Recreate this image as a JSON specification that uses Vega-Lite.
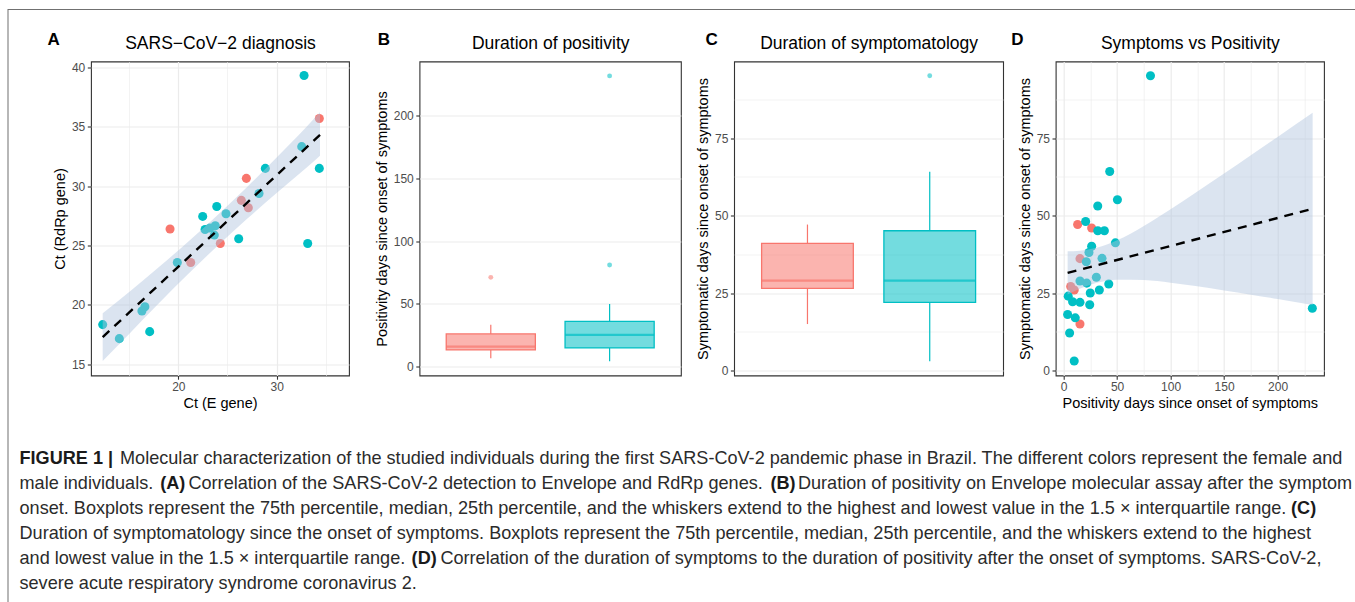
{
  "$schema": "https://vega.github.io/schema/vega-lite/v6.json",
  "padding": {"left": 7.5, "top": 9, "right": 0, "bottom": 0},
  "background": "white",
  "config": {
    "font": "Liberation Sans",
    "view": {"stroke": "#333333", "strokeWidth": 1.1},
    "axis": {
      "domain": false, "tickColor": "#333333", "tickSize": 3.7, "tickWidth": 1.1,
      "labelColor": "#4D4D4D", "labelFontSize": 12, "labelFont": "Liberation Sans",
      "titleFont": "Liberation Sans", "titleFontSize": 14.5, "titleFontWeight": "normal", "titleColor": "#000000",
      "gridColor": "#EBEBEB", "labelPadding": 2.5, "titlePadding": 4, "labelFlush": false, "labelOverlap": false
    },
    "title": {"font": "Liberation Sans", "fontSize": 17, "fontWeight": "bold", "anchor": "start", "frame": "bounds", "baseline": "alphabetic", "color": "#000000"}
  },
  "spacing": 0,
  "vconcat": [
    {"width": 1360, "height": 1, "view": {"stroke": null, "fill": "#707070"}, "data": {"values": []}, "mark": "point", "encoding": {}},
    {
      "spacing": 11,
      "hconcat": [
        {"width": 1, "height": 600, "view": {"stroke": null, "fill": "#707070"}, "data": {"values": []}, "mark": "point", "encoding": {}},
        {
          "spacing": 18.5,
          "vconcat": [
            {"width": 1, "height": 1, "view": {"stroke": null}, "data": {"values": []}, "mark": "point", "encoding": {}},
            {
              "spacing": 70.5,
              "bounds": "flush",
              "hconcat": [
                {"width": 1, "height": 1, "view": {"stroke": null}, "data": {"values": []}, "mark": "point", "encoding": {}},
                {
                  "width": 258, "height": 314,
                  "title": {"text": "A", "offset": -15, "dx": -5},
                  "resolve": {"axis": {"x": "independent"}},
                  "layer": [
                    {
                      "data": {"values": [
                        {"x": 19.16, "y": 26.39, "sex": "F"}, {"x": 21.26, "y": 23.57, "sex": "F"}, {"x": 24.27, "y": 25.17, "sex": "F"},
                        {"x": 26.41, "y": 28.80, "sex": "F"}, {"x": 27.12, "y": 28.18, "sex": "F"}, {"x": 26.92, "y": 30.65, "sex": "F"},
                        {"x": 34.34, "y": 35.68, "sex": "F"},
                        {"x": 22.48, "y": 27.45, "sex": "M"}, {"x": 23.91, "y": 28.29, "sex": "M"}, {"x": 24.85, "y": 27.67, "sex": "M"},
                        {"x": 22.72, "y": 26.35, "sex": "M"}, {"x": 23.22, "y": 26.47, "sex": "M"}, {"x": 23.76, "y": 26.66, "sex": "M"},
                        {"x": 23.66, "y": 25.88, "sex": "M"}, {"x": 26.14, "y": 25.57, "sex": "M"}, {"x": 19.90, "y": 23.57, "sex": "M"},
                        {"x": 16.30, "y": 19.50, "sex": "M"}, {"x": 16.60, "y": 19.85, "sex": "M"}, {"x": 12.31, "y": 18.35, "sex": "M"},
                        {"x": 14.00, "y": 17.17, "sex": "M"}, {"x": 17.09, "y": 17.76, "sex": "M"}, {"x": 28.21, "y": 29.38, "sex": "M"},
                        {"x": 28.85, "y": 31.49, "sex": "M"}, {"x": 32.55, "y": 33.32, "sex": "M"}, {"x": 34.34, "y": 31.49, "sex": "M"},
                        {"x": 32.79, "y": 39.30, "sex": "M"}, {"x": 33.16, "y": 25.17, "sex": "M"}
                      ]},
                      "mark": {"type": "circle", "size": 82, "opacity": 1},
                      "encoding": {
                        "x": {"field": "x", "type": "quantitative", "scale": {"domain": [11.12, 37.36], "nice": false, "zero": false},
                          "axis": {"orient": "bottom", "title": "Ct (E gene)", "values": [15, 20, 25, 30, 35],
                            "labelExpr": "datum.value % 10 === 0 ? datum.label : ''",
                            "gridWidth": {"condition": {"test": "datum.value % 10 === 0", "value": 1.2}, "value": 0.6},
                            "tickOpacity": {"condition": {"test": "datum.value % 10 === 0", "value": 1}, "value": 0}}},
                        "y": {"field": "y", "type": "quantitative", "scale": {"domain": [14.07, 40.48], "nice": false, "zero": false},
                          "axis": {"title": "Ct (RdRp gene)", "values": [15, 17.5, 20, 22.5, 25, 27.5, 30, 32.5, 35, 37.5, 40],
                            "labelExpr": "datum.value % 5 === 0 ? datum.label : ''",
                            "gridWidth": {"condition": {"test": "datum.value % 5 === 0", "value": 1.2}, "value": 0.6},
                            "tickOpacity": {"condition": {"test": "datum.value % 5 === 0", "value": 1}, "value": 0}}},
                        "color": {"field": "sex", "type": "nominal", "scale": {"domain": ["F", "M"], "range": ["#F8766D", "#00BFC4"]}, "legend": null}
                      }
                    },
                    {
                      "data": {"values": [
                        {"x": 12.31, "lo": 15.29, "hi": 19.31}, {"x": 15, "lo": 17.57, "hi": 21.09},
                        {"x": 18, "lo": 20.12, "hi": 23.17}, {"x": 21, "lo": 22.60, "hi": 25.32},
                        {"x": 24.3, "lo": 25.22, "hi": 27.80}, {"x": 27, "lo": 27.25, "hi": 29.93},
                        {"x": 30, "lo": 29.42, "hi": 32.40}, {"x": 33, "lo": 31.52, "hi": 34.94},
                        {"x": 34.41, "lo": 32.56, "hi": 36.21}
                      ]},
                      "mark": {"type": "area", "color": "#B0C4DE", "opacity": 0.45, "interpolate": "monotone"},
                      "encoding": {
                        "x": {"field": "x", "type": "quantitative", "scale": {"domain": [11.12, 37.36], "nice": false, "zero": false},
                          "axis": {"orient": "top", "title": "SARS−CoV−2 diagnosis", "labels": false, "ticks": false, "grid": false, "titleFontSize": 17.5, "titlePadding": 9.5}},
                        "y": {"field": "lo", "type": "quantitative", "title": "Ct (RdRp gene)", "scale": {"domain": [14.07, 40.48], "nice": false, "zero": false}},
                        "y2": {"field": "hi"}
                      }
                    },
                    {
                      "data": {"values": [
                        {"x": 12.31, "fit": 17.30}, {"x": 34.41, "fit": 34.31}
                      ]},
                      "mark": {"type": "line", "color": "#000000", "strokeWidth": 2.4, "strokeDash": [9, 7]},
                      "encoding": {
                        "x": {"field": "x", "type": "quantitative", "scale": {"domain": [11.12, 37.36], "nice": false, "zero": false}, "axis": null},
                        "y": {"field": "fit", "type": "quantitative", "title": "Ct (RdRp gene)", "scale": {"domain": [14.07, 40.48], "nice": false, "zero": false}}
                      }
                    }
                  ]
                },
                {
                  "spacing": 52.6,
                  "bounds": "flush",
                  "hconcat": [
                    {
                      "width": 261.4, "height": 314,
                      "title": {"text": "B", "offset": -15, "dx": 3.5},
                      "resolve": {"axis": {"x": "independent"}},
                      "layer": [
                        {
                          "data": {"values": [
                            {"sex": "F", "lower": 6.4, "q1": 13.0, "median": 15.7, "q3": 25.8, "upper": 33.2},
                            {"sex": "M", "lower": 4.0, "q1": 14.6, "median": 25.0, "q3": 35.9, "upper": 49.7}
                          ]},
                          "layer": [
                            {
                              "mark": {"type": "rule", "strokeWidth": 1.2},
                              "encoding": {
                                "x": {"field": "sex", "type": "nominal", "scale": {"type": "band", "domain": ["F", "M"], "paddingInner": 0.25, "paddingOuter": 0.225}, "axis": null},
                                "y": {"field": "lower", "type": "quantitative", "title": "Positivity days since onset of symptoms", "scale": {"domain": [-7.4, 243.4], "nice": false, "zero": false},
                                  "axis": {"values": [0, 25, 50, 75, 100, 125, 150, 175, 200, 225],
                                    "labelExpr": "datum.value % 50 === 0 ? datum.label : ''",
                                    "gridWidth": {"condition": {"test": "datum.value % 50 === 0", "value": 1.2}, "value": 0.6},
                                    "tickOpacity": {"condition": {"test": "datum.value % 50 === 0", "value": 1}, "value": 0}}},
                                "y2": {"field": "q1"},
                                "color": {"field": "sex", "type": "nominal", "scale": {"domain": ["F", "M"], "range": ["#F8766D", "#00BFC4"]}, "legend": null}
                              }
                            },
                            {
                              "mark": {"type": "rule", "strokeWidth": 1.2},
                              "encoding": {
                                "x": {"field": "sex", "type": "nominal", "scale": {"type": "band", "domain": ["F", "M"], "paddingInner": 0.25, "paddingOuter": 0.225}, "axis": null},
                                "y": {"field": "q3", "type": "quantitative", "title": "Positivity days since onset of symptoms", "scale": {"domain": [-7.4, 243.4], "nice": false, "zero": false}},
                                "y2": {"field": "upper"},
                                "color": {"field": "sex", "type": "nominal", "scale": {"domain": ["F", "M"], "range": ["#F8766D", "#00BFC4"]}, "legend": null}
                              }
                            },
                            {
                              "mark": {"type": "bar", "fillOpacity": 0.55, "strokeWidth": 1.3},
                              "encoding": {
                                "x": {"field": "sex", "type": "nominal", "scale": {"type": "band", "domain": ["F", "M"], "paddingInner": 0.25, "paddingOuter": 0.225},
                                  "axis": {"orient": "bottom", "title": "Sex", "labelAngle": 0, "grid": true, "gridWidth": 1.2, "bandPosition": 0.5}},
                                "y": {"field": "q1", "type": "quantitative", "title": "Positivity days since onset of symptoms", "scale": {"domain": [-7.4, 243.4], "nice": false, "zero": false}},
                                "y2": {"field": "q3"},
                                "fill": {"field": "sex", "type": "nominal", "scale": {"domain": ["F", "M"], "range": ["#F8766D", "#00BFC4"]}, "legend": null},
                                "stroke": {"field": "sex", "type": "nominal", "scale": {"domain": ["F", "M"], "range": ["#F8766D", "#00BFC4"]}, "legend": null}
                              }
                            },
                            {
                              "mark": {"type": "tick", "thickness": 2.2},
                              "encoding": {
                                "x": {"field": "sex", "type": "nominal", "scale": {"type": "band", "domain": ["F", "M"], "paddingInner": 0.25, "paddingOuter": 0.225}, "axis": null},
                                "y": {"field": "median", "type": "quantitative", "title": "Positivity days since onset of symptoms", "scale": {"domain": [-7.4, 243.4], "nice": false, "zero": false}},
                                "color": {"field": "sex", "type": "nominal", "scale": {"domain": ["F", "M"], "range": ["#F8766D", "#00BFC4"]}, "legend": null}
                              }
                            }
                          ]
                        },
                        {
                          "data": {"values": [
                            {"sex": "F", "value": 71.0}, {"sex": "M", "value": 80.9}, {"sex": "M", "value": 231.9}
                          ]},
                          "mark": {"type": "circle", "size": 24, "opacity": 0.55},
                          "encoding": {
                            "x": {"field": "sex", "type": "nominal", "scale": {"type": "band", "domain": ["F", "M"], "paddingInner": 0.25, "paddingOuter": 0.225},
                              "axis": {"orient": "top", "title": "Duration of positivity", "labels": false, "ticks": false, "grid": false, "titleFontSize": 17.5, "titlePadding": 9.5}},
                            "y": {"field": "value", "type": "quantitative", "title": "Positivity days since onset of symptoms", "scale": {"domain": [-7.4, 243.4], "nice": false, "zero": false}},
                            "color": {"field": "sex", "type": "nominal", "scale": {"domain": ["F", "M"], "range": ["#F8766D", "#00BFC4"]}, "legend": null}
                          }
                        }
                      ]
                    },
                    {
                      "width": 269, "height": 314,
                      "title": {"text": "C", "offset": -15, "dx": 10},
                      "resolve": {"axis": {"x": "independent"}},
                      "layer": [
                        {
                          "data": {"values": [
                            {"sex": "F", "lower": 15.0, "q1": 26.5, "median": 29.0, "q3": 41.0, "upper": 47.1},
                            {"sex": "M", "lower": 3.0, "q1": 22.0, "median": 29.0, "q3": 45.1, "upper": 64.1}
                          ]},
                          "layer": [
                            {
                              "mark": {"type": "rule", "strokeWidth": 1.2},
                              "encoding": {
                                "x": {"field": "sex", "type": "nominal", "scale": {"type": "band", "domain": ["F", "M"], "paddingInner": 0.25, "paddingOuter": 0.225}, "axis": null},
                                "y": {"field": "lower", "type": "quantitative", "title": "Symptomatic days since onset of symptoms", "scale": {"domain": [-1.6, 99.7], "nice": false, "zero": false},
                                  "axis": {"values": [0, 12.5, 25, 37.5, 50, 62.5, 75, 87.5],
                                    "labelExpr": "datum.value % 25 === 0 ? datum.label : ''",
                                    "gridWidth": {"condition": {"test": "datum.value % 25 === 0", "value": 1.2}, "value": 0.6},
                                    "tickOpacity": {"condition": {"test": "datum.value % 25 === 0", "value": 1}, "value": 0}}},
                                "y2": {"field": "q1"},
                                "color": {"field": "sex", "type": "nominal", "scale": {"domain": ["F", "M"], "range": ["#F8766D", "#00BFC4"]}, "legend": null}
                              }
                            },
                            {
                              "mark": {"type": "rule", "strokeWidth": 1.2},
                              "encoding": {
                                "x": {"field": "sex", "type": "nominal", "scale": {"type": "band", "domain": ["F", "M"], "paddingInner": 0.25, "paddingOuter": 0.225}, "axis": null},
                                "y": {"field": "q3", "type": "quantitative", "title": "Symptomatic days since onset of symptoms", "scale": {"domain": [-1.6, 99.7], "nice": false, "zero": false}},
                                "y2": {"field": "upper"},
                                "color": {"field": "sex", "type": "nominal", "scale": {"domain": ["F", "M"], "range": ["#F8766D", "#00BFC4"]}, "legend": null}
                              }
                            },
                            {
                              "mark": {"type": "bar", "fillOpacity": 0.55, "strokeWidth": 1.3},
                              "encoding": {
                                "x": {"field": "sex", "type": "nominal", "scale": {"type": "band", "domain": ["F", "M"], "paddingInner": 0.25, "paddingOuter": 0.225},
                                  "axis": {"orient": "bottom", "title": "Sex", "labelAngle": 0, "grid": true, "gridWidth": 1.2, "bandPosition": 0.5}},
                                "y": {"field": "q1", "type": "quantitative", "title": "Symptomatic days since onset of symptoms", "scale": {"domain": [-1.6, 99.7], "nice": false, "zero": false}},
                                "y2": {"field": "q3"},
                                "fill": {"field": "sex", "type": "nominal", "scale": {"domain": ["F", "M"], "range": ["#F8766D", "#00BFC4"]}, "legend": null},
                                "stroke": {"field": "sex", "type": "nominal", "scale": {"domain": ["F", "M"], "range": ["#F8766D", "#00BFC4"]}, "legend": null}
                              }
                            },
                            {
                              "mark": {"type": "tick", "thickness": 2.2},
                              "encoding": {
                                "x": {"field": "sex", "type": "nominal", "scale": {"type": "band", "domain": ["F", "M"], "paddingInner": 0.25, "paddingOuter": 0.225}, "axis": null},
                                "y": {"field": "median", "type": "quantitative", "title": "Symptomatic days since onset of symptoms", "scale": {"domain": [-1.6, 99.7], "nice": false, "zero": false}},
                                "color": {"field": "sex", "type": "nominal", "scale": {"domain": ["F", "M"], "range": ["#F8766D", "#00BFC4"]}, "legend": null}
                              }
                            }
                          ]
                        },
                        {
                          "data": {"values": [{"sex": "M", "value": 95.1}]},
                          "mark": {"type": "circle", "size": 24, "opacity": 0.55},
                          "encoding": {
                            "x": {"field": "sex", "type": "nominal", "scale": {"type": "band", "domain": ["F", "M"], "paddingInner": 0.25, "paddingOuter": 0.225},
                              "axis": {"orient": "top", "title": "Duration of symptomatology", "labels": false, "ticks": false, "grid": false, "titleFontSize": 17.5, "titlePadding": 9.5}},
                            "y": {"field": "value", "type": "quantitative", "title": "Symptomatic days since onset of symptoms", "scale": {"domain": [-1.6, 99.7], "nice": false, "zero": false}},
                            "color": {"field": "sex", "type": "nominal", "scale": {"domain": ["F", "M"], "range": ["#F8766D", "#00BFC4"]}, "legend": null}
                          }
                        }
                      ]
                    },
                    {
                      "width": 268.3, "height": 314,
                      "title": {"text": "D", "offset": -15, "dx": -6},
                      "resolve": {"axis": {"x": "independent"}},
                      "layer": [
                        {
                          "data": {"values": [
                            {"x": 13.1, "y": 47.1, "sex": "F"}, {"x": 26.2, "y": 46.0, "sex": "F"}, {"x": 15.3, "y": 36.1, "sex": "F"},
                            {"x": 6.6, "y": 27.1, "sex": "F"}, {"x": 9.9, "y": 26.0, "sex": "F"}, {"x": 15.3, "y": 15.0, "sex": "F"},
                            {"x": 81.2, "y": 95.1, "sex": "M"}, {"x": 43.1, "y": 64.2, "sex": "M"}, {"x": 50.3, "y": 55.1, "sex": "M"},
                            {"x": 31.9, "y": 53.1, "sex": "M"}, {"x": 20.6, "y": 48.1, "sex": "M"}, {"x": 31.9, "y": 45.1, "sex": "M"},
                            {"x": 38.1, "y": 45.1, "sex": "M"}, {"x": 48.4, "y": 41.2, "sex": "M"}, {"x": 26.2, "y": 40.1, "sex": "M"},
                            {"x": 23.7, "y": 38.1, "sex": "M"}, {"x": 21.2, "y": 35.1, "sex": "M"}, {"x": 35.9, "y": 36.2, "sex": "M"},
                            {"x": 30.6, "y": 30.1, "sex": "M"}, {"x": 15.3, "y": 28.9, "sex": "M"}, {"x": 21.6, "y": 28.2, "sex": "M"},
                            {"x": 42.2, "y": 27.9, "sex": "M"}, {"x": 24.9, "y": 25.0, "sex": "M"}, {"x": 33.4, "y": 26.0, "sex": "M"},
                            {"x": 4.3, "y": 24.0, "sex": "M"}, {"x": 8.4, "y": 22.2, "sex": "M"}, {"x": 15.3, "y": 22.0, "sex": "M"},
                            {"x": 24.4, "y": 21.2, "sex": "M"}, {"x": 3.75, "y": 18.1, "sex": "M"}, {"x": 10.9, "y": 17.0, "sex": "M"},
                            {"x": 5.6, "y": 12.1, "sex": "M"}, {"x": 9.9, "y": 3.1, "sex": "M"}, {"x": 232.5, "y": 20.1, "sex": "M"}
                          ]},
                          "mark": {"type": "circle", "size": 82, "opacity": 1},
                          "encoding": {
                            "x": {"field": "x", "type": "quantitative", "scale": {"domain": [-7.4, 243.4], "nice": false, "zero": false},
                              "axis": {"orient": "bottom", "title": "Positivity days since onset of symptoms", "values": [0, 25, 50, 75, 100, 125, 150, 175, 200, 225],
                                "labelExpr": "datum.value % 50 === 0 ? datum.label : ''",
                                "gridWidth": {"condition": {"test": "datum.value % 50 === 0", "value": 1.2}, "value": 0.6},
                                "tickOpacity": {"condition": {"test": "datum.value % 50 === 0", "value": 1}, "value": 0}}},
                            "y": {"field": "y", "type": "quantitative", "scale": {"domain": [-1.6, 99.7], "nice": false, "zero": false},
                              "axis": {"title": "Symptomatic days since onset of symptoms", "values": [0, 12.5, 25, 37.5, 50, 62.5, 75, 87.5],
                                "labelExpr": "datum.value % 25 === 0 ? datum.label : ''",
                                "gridWidth": {"condition": {"test": "datum.value % 25 === 0", "value": 1.2}, "value": 0.6},
                                "tickOpacity": {"condition": {"test": "datum.value % 25 === 0", "value": 1}, "value": 0}}},
                            "color": {"field": "sex", "type": "nominal", "scale": {"domain": ["F", "M"], "range": ["#F8766D", "#00BFC4"]}, "legend": null}
                          }
                        },
                        {
                          "data": {"values": [
                            {"x": 3.75, "lo": 24.5, "hi": 38.5}, {"x": 15, "lo": 26.36, "hi": 38.68},
                            {"x": 31, "lo": 28.29, "hi": 39.63}, {"x": 50, "lo": 29.33, "hi": 42.03},
                            {"x": 75, "lo": 29.2, "hi": 46.66}, {"x": 100, "lo": 28.33, "hi": 52.05},
                            {"x": 125, "lo": 27.17, "hi": 57.73}, {"x": 150, "lo": 25.86, "hi": 63.54},
                            {"x": 175, "lo": 24.49, "hi": 69.43}, {"x": 200, "lo": 23.07, "hi": 75.37},
                            {"x": 232.8, "lo": 21.18, "hi": 83.18}
                          ]},
                          "mark": {"type": "area", "color": "#B0C4DE", "opacity": 0.45, "interpolate": "monotone"},
                          "encoding": {
                            "x": {"field": "x", "type": "quantitative", "scale": {"domain": [-7.4, 243.4], "nice": false, "zero": false},
                              "axis": {"orient": "top", "title": "Symptoms vs Positivity", "labels": false, "ticks": false, "grid": false, "titleFontSize": 17.5, "titlePadding": 9.5}},
                            "y": {"field": "lo", "type": "quantitative", "title": "Symptomatic days since onset of symptoms", "scale": {"domain": [-1.6, 99.7], "nice": false, "zero": false}},
                            "y2": {"field": "hi"}
                          }
                        },
                        {
                          "data": {"values": [
                            {"x": 3.75, "fit": 31.5}, {"x": 232.8, "fit": 52.18}
                          ]},
                          "mark": {"type": "line", "color": "#000000", "strokeWidth": 2.4, "strokeDash": [9, 7]},
                          "encoding": {
                            "x": {"field": "x", "type": "quantitative", "scale": {"domain": [-7.4, 243.4], "nice": false, "zero": false}, "axis": null},
                            "y": {"field": "fit", "type": "quantitative", "title": "Symptomatic days since onset of symptoms", "scale": {"domain": [-1.6, 99.7], "nice": false, "zero": false}}
                          }
                        }
                      ]
                    }
                  ]
                }
              ]
            },
            {
              "width": 1320, "height": 192,
              "view": {"stroke": null},
              "encoding": {
                "x": {"datum": 0, "type": "quantitative", "scale": {"domain": [0, 1]}, "axis": null},
                "y": {"field": "line", "type": "ordinal", "scale": {"type": "band", "domain": [1, 2, 3, 4, 5, 6], "paddingInner": 0, "paddingOuter": 0.84}, "axis": null},
                "text": {"field": "text"}
              },
              "layer": [
                {
                  "data": {"values": [
                    {"line": 1, "text": "\u200b\u00a0\u00a0\u00a0\u00a0\u00a0\u00a0\u00a0\u00a0\u00a0\u00a0\u00a0\u00a0\u00a0\u00a0\u00a0\u00a0\u00a0\u00a0\u00a0\u00a0Molecular characterization of the studied individuals during the first SARS-CoV-2 pandemic phase in Brazil. The different colors represent the female and"},
                    {"line": 2, "text": "male individuals. \u00a0\u00a0\u00a0\u00a0\u00a0 Correlation of the SARS-CoV-2 detection to Envelope and RdRp genes. \u00a0\u00a0\u00a0\u00a0\u00a0 Duration of positivity on Envelope molecular assay after the symptom"},
                    {"line": 3, "text": "onset. Boxplots represent the 75th percentile, median, 25th percentile, and the whiskers extend to the highest and lowest value in the 1.5 × interquartile range."},
                    {"line": 4, "text": "Duration of symptomatology since the onset of symptoms. Boxplots represent the 75th percentile, median, 25th percentile, and the whiskers extend to the highest"},
                    {"line": 5, "text": "and lowest value in the 1.5 × interquartile range. \u00a0\u00a0\u00a0\u00a0\u00a0 Correlation of the duration of symptoms to the duration of positivity after the onset of symptoms. SARS-CoV-2,"},
                    {"line": 6, "text": "severe acute respiratory syndrome coronavirus 2."}
                  ]},
                  "mark": {"type": "text", "align": "left", "baseline": "alphabetic", "font": "Liberation Sans", "fontSize": 18.1, "fontWeight": "normal", "color": "#2b2b2b"}
                },
                {
                  "data": {"values": [
                    {"line": 1, "text": "FIGURE 1 |"},
                    {"line": 2, "text": "\u200b\u00a0\u00a0\u00a0\u00a0\u00a0\u00a0\u00a0\u00a0\u00a0\u00a0\u00a0\u00a0\u00a0\u00a0\u00a0\u00a0\u00a0\u00a0\u00a0\u00a0\u00a0\u00a0\u00a0\u00a0\u00a0\u00a0\u00a0\u00a0(A)"},
                    {"line": 2, "text": "\u200b\u2003\u2003\u2003\u2003\u2003\u2003\u2003\u2003\u2003\u2003\u2003\u2003\u2003\u2003\u2003\u2003\u2003\u2003\u2003\u2003\u2003\u2003\u2003\u2003\u2003\u2003\u2003\u2003\u2003\u2003\u2003\u2003\u2003\u2003\u2003\u2003\u2003\u2003\u2003\u2003\u2003\u2002(B)"},
                    {"line": 3, "text": "\u200b\u2003\u2003\u2003\u2003\u2003\u2003\u2003\u2003\u2003\u2003\u2003\u2003\u2003\u2003\u2003\u2003\u2003\u2003\u2003\u2003\u2003\u2003\u2003\u2003\u2003\u2003\u2003\u2003\u2003\u2003\u2003\u2003\u2003\u2003\u2003\u2003\u2003\u2003\u2003\u2003\u2003\u2003\u2003\u2003\u2003\u2003\u2003\u2003\u2003\u2003\u2003\u2003\u2003\u2003\u2003\u2003\u2003\u2003\u2003\u2003\u2003\u2003\u2003\u2003\u2003\u2003\u2003\u2003\u2003\u2003\u00a0(C)"},
                    {"line": 5, "text": "\u200b\u00a0\u00a0\u00a0\u00a0\u00a0\u00a0\u00a0\u00a0\u00a0\u00a0\u00a0\u00a0\u00a0\u00a0\u00a0\u00a0\u00a0\u00a0\u00a0\u00a0\u00a0\u00a0\u00a0\u00a0\u00a0\u00a0\u00a0\u00a0\u00a0\u00a0\u00a0\u00a0\u00a0\u00a0\u00a0\u00a0\u00a0\u00a0\u00a0\u00a0\u00a0\u00a0\u00a0\u00a0\u00a0\u00a0\u00a0\u00a0\u00a0\u00a0\u00a0\u00a0\u00a0\u00a0\u00a0\u00a0\u00a0\u00a0\u00a0\u00a0\u00a0\u00a0\u00a0\u00a0\u00a0\u00a0\u00a0\u00a0\u00a0\u00a0\u00a0\u00a0\u00a0\u00a0\u00a0\u00a0\u00a0\u00a0(D)"}
                  ]},
                  "mark": {"type": "text", "align": "left", "baseline": "alphabetic", "font": "Liberation Sans", "fontSize": 18.1, "fontWeight": "bold", "color": "#1a1a1a"}
                }
              ]
            }
          ]
        }
      ]
    }
  ]
}
